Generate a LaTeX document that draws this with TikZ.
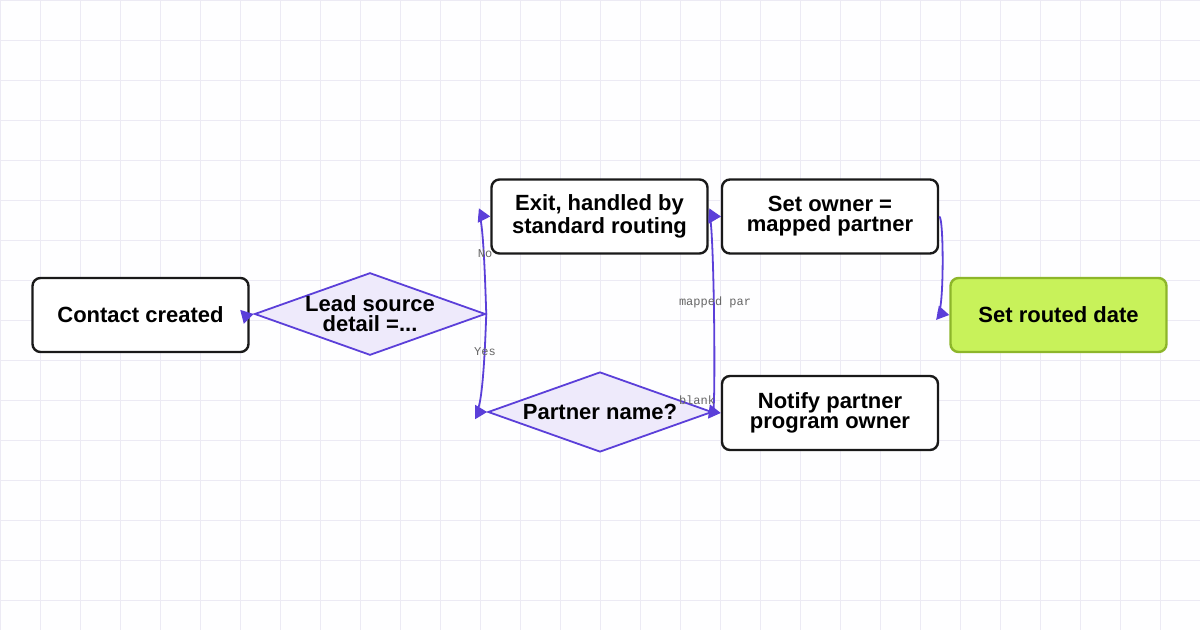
\documentclass[tikz,border=0pt]{standalone}
\usepackage{fontspec}
\setmainfont{Liberation Sans}
\setmonofont{Liberation Mono}
\usetikzlibrary{shapes.geometric,arrows.meta}
\definecolor{edge}{HTML}{5B3FD9}
\definecolor{dfill}{HTML}{EEEAFB}
\definecolor{lime}{HTML}{C8F25A}
\definecolor{limeb}{HTML}{8DB62A}
\definecolor{gridc}{HTML}{ECEAF4}
\tikzset{
  box/.style={draw=black!90, line width=1.2pt, rounded corners=4pt, fill=white,
    minimum width=108pt, minimum height=37pt, align=center, inner sep=0pt,
    font=\fontsize{11}{10}\selectfont\bfseries},
  dec/.style={diamond, draw=edge, line width=0.9pt, fill=dfill, aspect=2.8,
    inner sep=0pt, align=center, font=\fontsize{11}{10}\selectfont\bfseries},
  flow/.style={draw=edge, line width=0.9pt, -{Triangle[length=6pt,width=7pt]}},
  lbl/.style={font=\ttfamily\fontsize{6}{6}\selectfont, text=black!60}
}
\begin{document}
\begin{tikzpicture}[x=0.5pt,y=-0.5pt]
    \useasboundingbox (0,0) rectangle (1200,630);
    \fill [white!97!gridc] (0,0) rectangle (1200,630);
    % background grid
    \foreach \x in {0,40,...,1200} \draw [gridc, line width=0.4pt] (\x,0) -- (\x,630);
    \foreach \y in {0,40,...,630} \draw [gridc, line width=0.4pt] (0,\y) -- (1200,\y);
    \node [box] (contact) at (140.5,315) {Contact created};
    \node [dec, minimum width=111pt, minimum height=40pt] (lead) at (370,314) {Lead source\\detail =...};
    \node [box] (exit) at (599.5,216.5) {Exit, handled by\\standard routing};
    \node [dec, minimum width=112pt, minimum height=40pt] (partner) at (600,412) {Partner name?};
    \node [box] (owner) at (830,216.5) {Set owner =\\mapped partner};
    \node [box] (notify) at (830,413) {Notify partner\\program owner};
    \node [box, fill=lime, draw=limeb] (routed) at (1058.5,315) {Set routed date};
    \draw [flow] (contact.east) -- (lead.west);
    \draw [flow] (lead.east) .. controls (486,314) and (484,216) .. (exit.west);
    \node [lbl] at (485,254) {No};
    \draw [flow] (lead.east) .. controls (486,314) and (484,412) .. (partner.west);
    \node [lbl] at (485,352) {Yes};
    \draw [flow] (exit.east) -- (owner.west);
    \draw [flow] (partner.east) .. controls (716,412) and (714,216) .. (owner.west);
    \node [lbl] at (715,302) {mapped par};
    \draw [flow] (partner.east) -- (notify.west);
    \node [lbl] at (697,400) {blank};
    \draw [flow] (owner.east) .. controls (944,216) and (944,314) .. (routed.west);
\end{tikzpicture}
\end{document}
